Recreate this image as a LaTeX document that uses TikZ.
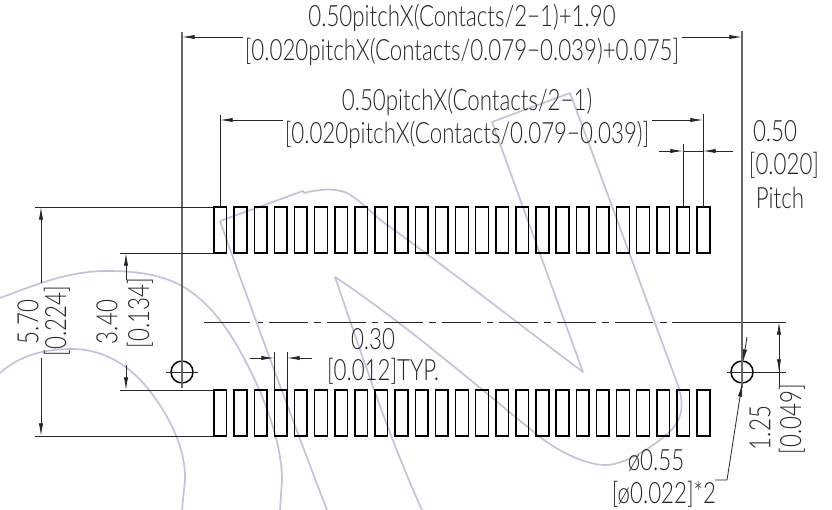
\documentclass[tikz,border=0pt]{standalone}
\usepackage{fontspec}
\usetikzlibrary{arrows.meta}
\setmainfont[UprightFont=* Light,FakeStretch=0.76]{Lato}
\definecolor{wm}{RGB}{194,194,220}
\definecolor{ext}{RGB}{105,105,105}
\tikzset{
  x=0.75pt,y=-0.75pt,
  dim/.style={line width=0.6pt,black!85,-{Latex[length=9.5pt,width=3.2pt]}},
  thin line/.style={line width=0.6pt,black!85},
  extg/.style={line width=1.05pt,ext},
  pad/.style={line width=1.1pt,black},
  wmark/.style={line width=1.25pt,wm,line join=round},
  big/.style={font=\fontsize{22}{22}\selectfont,text=black!85,inner sep=0pt},
}
\begin{document}
\begin{tikzpicture}
\useasboundingbox (0,0) rectangle (832,510);
\fill[white] (0,0) rectangle (832,510);

% watermark
\draw[wmark] (0,298) .. controls (40,283) and (70,271) .. (107,271)
  .. controls (135,271) and (160,274) .. (182,286)
  .. controls (215,305) and (235,340) .. (250,370)
  .. controls (270,410) and (282,450) .. (282,480) -- (280,510);
\draw[wmark] (0,373) .. controls (20,355) and (45,349) .. (72,349)
  .. controls (100,349) and (125,362) .. (145,385)
  .. controls (170,415) and (186,450) .. (185,480) -- (182,510);
\draw[wmark] (327,510) .. controls (300,440) and (255,320) .. (220,221)
  -- (303,191) -- (304,193) .. controls (320,189) and (340,187) .. (352,196)
  .. controls (365,205) and (372,213) .. (383,222)
  .. controls (450,270) and (520,325) .. (583,372)
  -- (492,122) -- (570,93)
  .. controls (610,200) and (650,310) .. (676,380)
  .. controls (688,410) and (680,425) .. (660,440)
  .. controls (640,455) and (620,465) .. (605,465)
  .. controls (585,465) and (555,450) .. (535,433)
  .. controls (470,380) and (400,320) .. (335,277)
  .. controls (360,350) and (390,440) .. (422,510);

% pads
\foreach \i in {0,...,24} {
  \pgfmathsetmacro{\xa}{214+20.13*\i}
  \draw[pad] (\xa,207) rectangle ++(12.7,46);
  \draw[pad] (\xa,390) rectangle ++(12.7,46);
}

% centre line
\draw[thin line] (204,322) -- (250,322);
\draw[thin line] (258,322) -- (263,322);
\foreach \i in {0,...,5} {
  \pgfmathsetmacro{\xa}{269+57.6*\i}
  \draw[thin line] (\xa,322) -- ++(39,0);
  \draw[thin line] (\xa+45,322) -- ++(6.5,0);
}
\draw[thin line] (615,322) -- (653,322);
\draw[thin line] (660,322) -- (667,322);
\draw[thin line] (672,322) -- (786,322);

% holes
\coordinate (holeL) at (182,372);
\coordinate (holeR) at (742,372);
\draw[line width=1.1pt,black] (holeL) circle (11);
\draw[line width=1.1pt,black] (holeR) circle (11);
\draw[thin line] (166,372) -- (198,372);
\draw[thin line] (727,372) -- (786,372);
\draw[extg] (182,32) -- (182,388);
\draw[extg] (742,31) -- (742,388);

% extension lines
\draw[thin line] (35,207) -- (213,207);
\draw[thin line] (35,436) -- (213,436);
\draw[thin line] (120,253) -- (213,253);
\draw[thin line] (120,390) -- (213,390);
\draw[thin line] (220,115) -- (220,207);
\draw[thin line] (703,114) -- (703,207);
\draw[thin line] (683,144) -- (683,207);
\draw[thin line] (274,352) -- (274,390);
\draw[thin line] (287,352) -- (287,390);

% dimension arrows
\draw[dim] (243,37) -- (182,37);
\draw[dim] (682,37) -- (742,37);
\draw[dim] (283,120) -- (220,120);
\draw[dim] (652,120) -- (703,120);
\draw[dim] (659,151) -- (683,151);
\draw[dim] (733,151) -- (703,151);
\draw[thin line] (683,151) -- (703,151);
\draw[dim] (250,358) -- (274,358);
\draw[dim] (312,358) -- (287,358);
\draw[dim] (41,283) -- (41,207);
\draw[dim] (41,358) -- (41,436);
\draw[dim] (126,280) -- (126,253);
\draw[dim] (126,365) -- (126,390);
\draw[thin line] (779,345) -- (779,386);
\draw[dim] (779,345) -- (779,322);
\draw[dim] (779,345) -- (779,372);
\draw[dim] (747,337) -- (743,362);
\draw[dim] (715,480) -- (727,480) -- (742,384);

% labels
\node[big] (t1) at (462,18) {0.50pitchX(Contacts/2−1)+1.90};
\node[big] (t2) at (462,52) {[0.020pitchX(Contacts/0.079−0.039)+0.075]};
\node[big] (t3) at (467,102) {0.50pitchX(Contacts/2−1)};
\node[big] (t4) at (467,135) {[0.020pitchX(Contacts/0.079−0.039)]};
\node[big] (p1) at (775,131) {0.50};
\node[big] (p2) at (784,165) {[0.020]};
\node[big] (p3) at (780,198) {Pitch};
\node[big,rotate=90] (a1) at (28,322) {5.70};
\node[big,rotate=90] (a2) at (57,321) {[0.224]};
\node[big,rotate=90] (b1) at (107,322) {3.40};
\node[big,rotate=90] (b2) at (140,313) {[0.134]};
\node[big] (c1) at (373,339) {0.30};
\node[big] (c2) at (383,371) {[0.012]TYP.};
\node[big,rotate=90] (d1) at (760,428) {1.25};
\node[big,rotate=90] (d2) at (792,419) {[0.049]};
\node[big] (e1) at (656,461) {ø0.55};
\node[big] (e2) at (664,494) {[ø0.022]*2};
\end{tikzpicture}
\end{document}
